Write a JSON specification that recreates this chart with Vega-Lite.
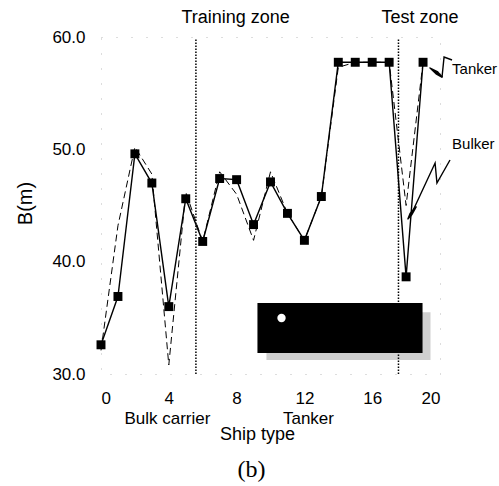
{
  "$schema": "https://vega.github.io/schema/vega-lite/v6.json",
  "width": 339,
  "height": 337,
  "autosize": {"type": "none"},
  "padding": {"left": 101, "top": 37, "right": 59, "bottom": 112},
  "background": "white",
  "config": {
    "view": {"stroke": "#bbbbbb", "strokeDash": [1, 14], "strokeWidth": 1},
    "font": "Liberation Sans",
    "axis": {"grid": false, "domain": false, "ticks": false, "labelColor": "black", "titleColor": "black", "labelFont": "Liberation Sans", "titleFont": "Liberation Sans", "titleFontWeight": "normal"}
  },
  "datasets": {
    "ships": [
      {"ship": 0, "series": "solid", "B": 32.6},
      {"ship": 1, "series": "solid", "B": 36.9},
      {"ship": 2, "series": "solid", "B": 49.6},
      {"ship": 3, "series": "solid", "B": 47.0},
      {"ship": 4, "series": "solid", "B": 36.0},
      {"ship": 5, "series": "solid", "B": 45.6},
      {"ship": 6, "series": "solid", "B": 41.8},
      {"ship": 7, "series": "solid", "B": 47.4},
      {"ship": 8, "series": "solid", "B": 47.3},
      {"ship": 9, "series": "solid", "B": 43.3},
      {"ship": 10, "series": "solid", "B": 47.1},
      {"ship": 11, "series": "solid", "B": 44.3},
      {"ship": 12, "series": "solid", "B": 41.9},
      {"ship": 13, "series": "solid", "B": 45.8},
      {"ship": 14, "series": "solid", "B": 57.75},
      {"ship": 15, "series": "solid", "B": 57.75},
      {"ship": 16, "series": "solid", "B": 57.75},
      {"ship": 17, "series": "solid", "B": 57.75},
      {"ship": 18, "series": "solid", "B": 38.65},
      {"ship": 19, "series": "solid", "B": 57.75},
      {"ship": 0, "series": "dashed", "B": 32.1},
      {"ship": 1, "series": "dashed", "B": 43.2},
      {"ship": 2, "series": "dashed", "B": 50.2},
      {"ship": 3, "series": "dashed", "B": 47.8},
      {"ship": 4, "series": "dashed", "B": 30.8},
      {"ship": 5, "series": "dashed", "B": 46.2},
      {"ship": 6, "series": "dashed", "B": 41.8},
      {"ship": 7, "series": "dashed", "B": 48.0},
      {"ship": 8, "series": "dashed", "B": 46.0},
      {"ship": 9, "series": "dashed", "B": 41.9},
      {"ship": 10, "series": "dashed", "B": 48.0},
      {"ship": 11, "series": "dashed", "B": 44.3},
      {"ship": 12, "series": "dashed", "B": 41.9},
      {"ship": 13, "series": "dashed", "B": 45.8},
      {"ship": 14, "series": "dashed", "B": 57.3},
      {"ship": 15, "series": "dashed", "B": 57.75},
      {"ship": 16, "series": "dashed", "B": 57.75},
      {"ship": 17, "series": "dashed", "B": 57.75},
      {"ship": 18, "series": "dashed", "B": 45.0},
      {"ship": 19, "series": "dashed", "B": 57.75}
    ],
    "zones": [
      {"zone": "Training zone", "x": 5.6, "y": 30, "y2": 59.8},
      {"zone": "Test zone", "x": 17.55, "y": 30, "y2": 59.8}
    ],
    "box": [
      {"part": "shadow", "x": 9.76, "x2": 19.44, "y": 35.5, "y2": 31.25},
      {"part": "box", "x": 9.23, "x2": 18.97, "y": 36.32, "y2": 31.87}
    ],
    "dot": [{"x": 10.65, "y": 34.99}],
    "arrows": [
      {"name": "tanker", "order": 1, "x": 20.12, "y": 56.44},
      {"name": "tanker", "order": 2, "x": 20.24, "y": 58.22},
      {"name": "tanker", "order": 3, "x": 20.71, "y": 57.95},
      {"name": "bulker", "order": 1, "x": 20.59, "y": 49.05},
      {"name": "bulker", "order": 2, "x": 19.82, "y": 47.0},
      {"name": "bulker", "order": 3, "x": 19.71, "y": 48.78},
      {"name": "bulker", "order": 4, "x": 18.23, "y": 43.98}
    ],
    "heads": [
      {"name": "tanker", "order": 1, "x": 19.41, "y": 57.24, "w": 1},
      {"name": "tanker", "order": 2, "x": 19.82, "y": 56.8, "w": 6},
      {"name": "tanker", "order": 3, "x": 20.12, "y": 56.44, "w": 1.5},
      {"name": "bulker", "order": 1, "x": 18.58, "y": 44.87, "w": 1.5},
      {"name": "bulker", "order": 2, "x": 18.29, "y": 44.24, "w": 5},
      {"name": "bulker", "order": 3, "x": 18.11, "y": 43.8, "w": 1}
    ],
    "topLabels": [
      {"label": "Training zone", "x": 7.94, "y": 61.65},
      {"label": "Test zone", "x": 18.82, "y": 61.65}
    ],
    "groupLabels": [
      {"label": "Bulk carrier", "x": 3.92, "y": 25.95},
      {"label": "Tanker", "x": 12.24, "y": 25.95}
    ],
    "smallLabels": [
      {"label": "Tanker", "x": 20.71, "y": 57.15},
      {"label": "Bulker", "x": 20.71, "y": 50.5}
    ],
    "caption": [{"label": "(b)", "x": 8.88, "y": 21.45}]
  },
  "layer": [
    {
      "data": {"name": "box"},
      "transform": [{"filter": "datum.part === 'shadow'"}],
      "mark": {"type": "rect", "color": "#cfcfcf"},
      "encoding": {
        "x": {"field": "x", "type": "quantitative", "scale": {"domain": [0, 20], "nice": false, "zero": false},
              "axis": {"values": [0, 4, 8, 12, 16, 20], "labelFontSize": 17, "labelPadding": 16, "title": "Ship type", "titleFontSize": 18, "titleX": 156, "titleY": 65, "titleBaseline": "alphabetic", "titleAlign": "center"}},
        "x2": {"field": "x2"},
        "y": {"field": "y", "type": "quantitative", "scale": {"domain": [30, 60], "nice": false, "zero": false},
              "axis": {"values": [30, 40, 50, 60], "format": ".1f", "labelFontSize": 17, "labelPadding": 16, "title": "B(m)", "titleFontSize": 20, "titleX": -76, "titleY": 166, "titleAngle": -90, "titleBaseline": "middle", "titleAlign": "center"}},
        "y2": {"field": "y2"}
      }
    },
    {
      "data": {"name": "zones"},
      "mark": {"type": "rule", "color": "black", "strokeWidth": 1.5, "strokeDash": [1.5, 1.5]},
      "encoding": {
        "x": {"field": "x", "type": "quantitative"},
        "y": {"field": "y", "type": "quantitative"},
        "y2": {"field": "y2"}
      }
    },
    {
      "data": {"name": "box"},
      "transform": [{"filter": "datum.part === 'box'"}],
      "mark": {"type": "rect", "color": "black"},
      "encoding": {
        "x": {"field": "x", "type": "quantitative"},
        "x2": {"field": "x2"},
        "y": {"field": "y", "type": "quantitative"},
        "y2": {"field": "y2"}
      }
    },
    {
      "data": {"name": "dot"},
      "mark": {"type": "point", "shape": "circle", "filled": true, "color": "white", "size": 70, "opacity": 1},
      "encoding": {
        "x": {"field": "x", "type": "quantitative"},
        "y": {"field": "y", "type": "quantitative"}
      }
    },
    {
      "data": {"name": "ships"},
      "transform": [{"filter": "datum.series === 'dashed'"}],
      "mark": {"type": "line", "color": "black", "strokeWidth": 1, "strokeDash": [7, 4]},
      "encoding": {
        "x": {"field": "ship", "type": "quantitative"},
        "y": {"field": "B", "type": "quantitative"}
      }
    },
    {
      "data": {"name": "ships"},
      "transform": [{"filter": "datum.series === 'solid'"}],
      "mark": {"type": "line", "color": "black", "strokeWidth": 1.4, "point": {"shape": "square", "filled": true, "size": 80, "color": "black", "opacity": 1}},
      "encoding": {
        "x": {"field": "ship", "type": "quantitative"},
        "y": {"field": "B", "type": "quantitative"}
      }
    },
    {
      "data": {"name": "arrows"},
      "mark": {"type": "line", "color": "black", "strokeWidth": 1.4},
      "encoding": {
        "x": {"field": "x", "type": "quantitative"},
        "y": {"field": "y", "type": "quantitative"},
        "detail": {"field": "name"},
        "order": {"field": "order", "type": "quantitative"}
      }
    },
    {
      "data": {"name": "heads"},
      "mark": {"type": "trail", "color": "black"},
      "encoding": {
        "x": {"field": "x", "type": "quantitative"},
        "y": {"field": "y", "type": "quantitative"},
        "detail": {"field": "name"},
        "order": {"field": "order", "type": "quantitative"},
        "size": {"field": "w", "type": "quantitative", "scale": {"type": "identity"}, "legend": null}
      }
    },
    {
      "data": {"name": "topLabels"},
      "mark": {"type": "text", "font": "Liberation Sans", "fontSize": 18, "color": "black", "align": "center", "baseline": "middle"},
      "encoding": {
        "x": {"field": "x", "type": "quantitative"},
        "y": {"field": "y", "type": "quantitative"},
        "text": {"field": "label"}
      }
    },
    {
      "data": {"name": "groupLabels"},
      "mark": {"type": "text", "font": "Liberation Sans", "fontSize": 17, "color": "black", "align": "center", "baseline": "middle"},
      "encoding": {
        "x": {"field": "x", "type": "quantitative"},
        "y": {"field": "y", "type": "quantitative"},
        "text": {"field": "label"}
      }
    },
    {
      "data": {"name": "smallLabels"},
      "mark": {"type": "text", "font": "Liberation Sans", "fontSize": 15, "color": "black", "align": "left", "baseline": "middle"},
      "encoding": {
        "x": {"field": "x", "type": "quantitative"},
        "y": {"field": "y", "type": "quantitative"},
        "text": {"field": "label"}
      }
    },
    {
      "data": {"name": "caption"},
      "mark": {"type": "text", "font": "Liberation Serif", "fontSize": 24, "color": "black", "align": "center", "baseline": "middle"},
      "encoding": {
        "x": {"field": "x", "type": "quantitative"},
        "y": {"field": "y", "type": "quantitative"},
        "text": {"field": "label"}
      }
    }
  ]
}
